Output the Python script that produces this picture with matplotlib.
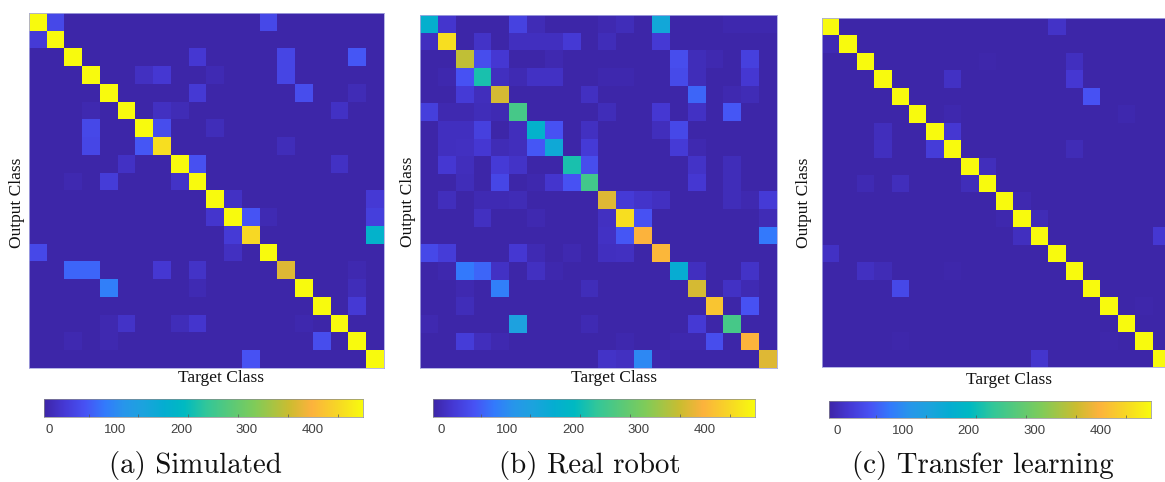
import numpy as np
import matplotlib
matplotlib.use("Agg")
import matplotlib.pyplot as plt
from matplotlib.colors import LinearSegmentedColormap, Normalize

W, H = 1165, 482
N = 20
VMAX = 476
# Values as (output class, target class, count)
diag_a = {7: 445, 12: 440, 14: 378}
off_a = [(0,1,50),(0,13,50),(1,0,33),(2,9,28),(2,14,45),(2,18,65),(3,6,18),(3,7,28),(3,10,8),(3,14,45),
 (4,9,30),(4,15,55),(4,18,10),(5,3,7),(5,7,18),(5,8,10),(5,17,20),(6,3,50),(6,7,55),(6,10,12),
 (7,3,48),(7,6,65),(7,14,12),(8,5,20),(8,9,58),(8,17,20),(9,2,6),(9,4,35),(9,8,22),
 (10,11,20),(10,19,30),(11,10,25),(11,12,62),(11,13,8),(11,19,38),(12,11,32),(12,19,190),
 (13,0,50),(13,11,17),(14,2,75),(14,3,75),(14,7,28),(14,9,22),(14,18,6),(15,4,95),(15,9,8),(15,18,12),
 (16,18,30),(17,4,7),(17,5,22),(17,8,12),(17,9,25),(17,15,5),(18,16,55),(18,2,6),(18,4,6),(19,12,60)]

diag_b = {0:185,1:445,2:358,3:225,4:372,5:262,6:190,7:165,8:225,9:258,10:378,11:445,12:400,13:405,
          14:175,15:372,16:420,17:262,18:400,19:378}
off_b = [(0,1,25),(0,5,42),(0,6,10),(0,10,6),(0,11,12),(0,13,160),(0,17,5),(0,18,5),(0,19,5),
 (1,0,15),(1,3,22),(1,5,15),(1,6,15),(1,7,15),(1,8,30),(1,10,12),(1,13,30),
 (2,3,55),(2,4,28),(2,7,6),(2,14,55),(2,15,12),(2,16,7),(2,18,40),
 (3,1,4),(3,2,60),(3,4,15),(3,5,8),(3,6,20),(3,7,20),(3,10,5),(3,11,5),(3,14,52),(3,15,12),(3,18,28),
 (4,2,32),(4,3,14),(4,9,17),(4,15,75),(4,17,6),(4,18,10),
 (5,0,38),(5,1,7),(5,2,7),(5,3,12),(5,4,8),(5,10,12),(5,13,28),(5,15,20),(5,17,65),
 (6,1,15),(6,2,15),(6,3,40),(6,5,14),(6,7,60),(6,9,18),(6,13,14),(6,14,50),
 (7,1,15),(7,2,17),(7,3,28),(7,4,10),(7,5,14),(7,6,65),(7,9,32),(7,14,32),(7,15,6),
 (8,1,28),(8,2,14),(8,4,32),(8,5,22),(8,9,55),(8,15,22),(8,17,12),
 (9,2,12),(9,4,48),(9,6,5),(9,7,25),(9,8,60),(9,15,28),(9,17,12),
 (10,1,14),(10,3,8),(10,4,8),(10,5,10),(10,11,33),(10,12,24),(10,13,18),(10,17,12),(10,18,6),(10,19,33),
 (11,3,18),(11,6,6),(11,10,18),(11,12,60),(11,19,10),
 (12,10,20),(12,11,65),(12,19,90),
 (13,0,50),(13,1,35),(13,5,28),(13,6,8),(13,8,6),(13,10,15),(13,11,18),
 (14,1,5),(14,2,90),(14,3,75),(14,4,20),(14,6,18),(14,7,4),(14,15,15),(14,18,22),
 (15,2,7),(15,4,95),(15,9,13),(15,17,20),(15,18,8),
 (16,2,12),(16,18,60),
 (17,0,7),(17,5,145),(17,9,8),(17,15,30),
 (18,2,35),(18,3,14),(18,4,6),(18,11,5),(18,14,5),(18,15,5),(18,16,55),
 (19,10,22),(19,11,18),(19,12,105),(19,13,5)]

diag_c = {}
off_c = [(0,13,22),(1,0,8),(2,9,3),(2,14,15),(3,7,20),(3,14,28),(4,15,60),(5,7,5),(5,17,4),
 (6,3,14),(6,7,28),(7,3,16),(7,6,35),(7,14,10),(8,9,14),(9,2,8),(9,4,14),(9,8,12),
 (10,11,6),(11,10,4),(11,12,10),(12,11,16),(12,19,28),(13,0,20),(14,2,18),(14,3,10),(14,7,3),
 (15,4,50),(16,18,3),(18,4,3),(18,16,2),(19,12,25)]

tick_values = [0, 100, 200, 300, 400]
bar_minor = [60, 135, 211, 287, 362, 438]
captions = ["(a) Simulated", "(b) Real robot", "(c) Transfer learning"]

parula = LinearSegmentedColormap.from_list("parula_like", [
    (0.00,(.2422,.1504,.6603)),(0.06,(.272,.22,.83)),(0.127,(.281,.3228,.9579)),
    (0.19,(.20,.48,.99)),(0.25,(.154,.59,.92)),(0.31,(.11,.64,.87)),
    (0.375,(.02,.68,.82)),(0.44,(.0,.73,.76)),(0.51,(.2,.78,.6)),
    (0.66,(.50,.80,.35)),(0.77,(.80,.74,.19)),(0.84,(.99,.70,.24)),
    (0.92,(.97,.84,.15)),(1.00,(.976,.983,.054))])

def build(diag, off):
    m = np.zeros((N, N))
    for i in range(N):
        m[i, i] = diag.get(i, VMAX)
    for r, c, v in off:
        m[r, c] = v
    return m

def px_axes(fig, x0, y0, x1, y1):
    return fig.add_axes([x0/W, 1-y1/H, (x1-x0)/W, (y1-y0)/H])

fig = plt.figure(figsize=(W/100, H/100), dpi=100, facecolor="white")
panels = [
    dict(m=build(diag_a, off_a), box=(29,13,384,368), bar=(44,399,363,417), x0=49, xl=(221,378), yl=(17,203), cap=195),
    dict(m=build(diag_b, off_b), box=(420,15,777,368), bar=(433,399,755,417), x0=441, xl=(614,378), yl=(408,202), cap=590),
    dict(m=build(diag_c, off_c), box=(822,18,1170,367), bar=(829,401,1151,418), x0=836.7, xl=(1009,380), yl=(804,203), cap=983),
]
serif = "Liberation Serif"
for p, cap in zip(panels, captions):
    ax = px_axes(fig, *p["box"])
    ax.imshow(p["m"], cmap=parula, norm=Normalize(0, VMAX), aspect="auto", interpolation="nearest")
    ax.set_xticks([]); ax.set_yticks([])
    for s in ax.spines.values():
        s.set_color("#a8a8e0"); s.set_linewidth(0.6)
    fig.text(p["xl"][0]/W, 1-p["xl"][1]/H, "Target Class", family=serif, fontsize=12.5, ha="center", va="center", color="#111111")
    fig.text(p["yl"][0]/W, 1-p["yl"][1]/H, "Output Class", family=serif, fontsize=12.5, rotation=90, ha="center", va="center", color="#111111")

    cb = px_axes(fig, *p["bar"])
    x0, y0, x1, y1 = p["bar"]
    scale = 0.66
    lo = (x0 - p["x0"]) / scale
    hi = (x1 - p["x0"]) / scale
    cb.imshow(np.linspace(0, 1, 256)[None, :], cmap=parula, aspect="auto", extent=(lo, hi, 0, 1))
    cb.set_yticks([])
    cb.set_xlim(lo, hi)
    cb.set_xticks(tick_values)
    cb.set_xticklabels([str(v) for v in tick_values], fontsize=9.5, color="#404040", family="Liberation Sans")
    cb.tick_params(axis="x", which="major", length=0, pad=5)
    cb.set_xticks(bar_minor, minor=True)
    cb.tick_params(axis="x", which="minor", length=2, width=0.5, direction="in", color="#555555")
    for s in cb.spines.values():
        s.set_color("#8a8a8a"); s.set_linewidth(0.5)
    fig.text(p["cap"]/W, 1-466/H, cap, family="cmr10", fontsize=20.8, ha="center", va="center", color="#111111")

fig.savefig("out.png", dpi=100)
